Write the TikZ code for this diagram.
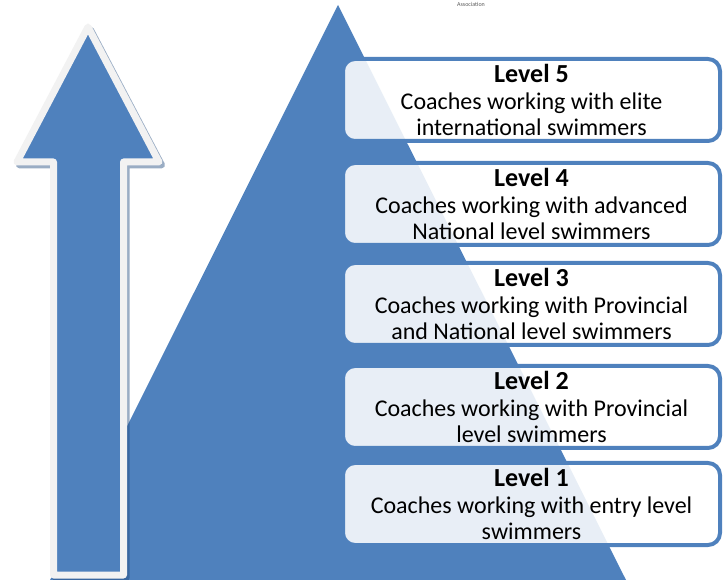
\documentclass[tikz,border=0pt]{standalone}
\usepackage{fontspec}
\setmainfont{Carlito}
\definecolor{accent}{HTML}{4F81BD}
\definecolor{rim}{HTML}{F2F2F2}
\definecolor{dropshade}{HTML}{1F497D}
\newcommand{\levelhead}[1]{{\fontsize{26}{26.5}\selectfont\bfseries #1}}
\begin{document}
\begin{tikzpicture}[x=1pt,y=-1pt,
  levelbox/.style={draw=accent, line width=4pt, rounded corners=12pt,
    fill=white, fill opacity=0.87, text opacity=1,
    minimum width=377pt, minimum height=82pt, inner sep=0pt,
    align=center, font=\fontsize{24}{26.5}\selectfont},
  arrowbody/.style={line width=7pt, line join=round}]
\useasboundingbox (0,0) rectangle (724,580);

% small caption at the top edge
\node[text=black!65, font=\fontsize{6}{7}\selectfont, inner sep=0pt] (assoc) at (471,4) {Association};

% pyramid
\fill[accent] (338,5) -- (626,580) -- (50,580) -- cycle;

% upward arrow: drop shadow, then body with light rim
\def\arrowoutline{(88,27) -- (159,162) -- (123.5,162) -- (123.5,575) -- (53.5,575) -- (53.5,162) -- (17,162) -- cycle}
\begin{scope}[shift={(2.5,3)}]
  \filldraw[arrowbody, draw=dropshade, fill=dropshade, opacity=0.45] \arrowoutline;
\end{scope}
\filldraw[arrowbody, draw=rim, fill=accent] \arrowoutline;

% level boxes
\node[levelbox] (l5) at (531.5,100) {\levelhead{Level 5}\\Coaches working with elite\\international swimmers};
\node[levelbox] (l4) at (531.5,204) {\levelhead{Level 4}\\Coaches working with advanced\\National level swimmers};
\node[levelbox] (l3) at (531.5,304) {\levelhead{Level 3}\\Coaches working with Provincial\\and National level swimmers};
\node[levelbox] (l2) at (531.5,407) {\levelhead{Level 2}\\Coaches working with Provincial\\level swimmers};
\node[levelbox] (l1) at (531.5,504) {\levelhead{Level 1}\\Coaches working with entry level\\swimmers};
\end{tikzpicture}
\end{document}
